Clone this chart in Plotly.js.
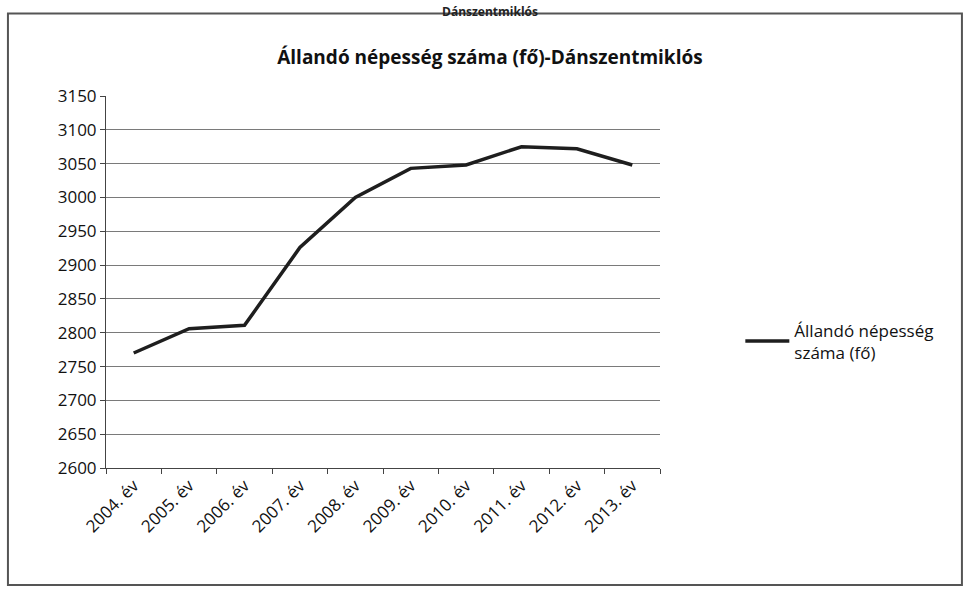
<!DOCTYPE html>
<html>
<head>
<meta charset="utf-8">
<script src="https://cdn.plot.ly/plotly-3.0.1.min.js"></script>
<style>html,body{margin:0;padding:0;background:#fff;}#chart{width:965px;height:590px;}</style>
</head>
<body>
<div id="chart"></div>
<script>
const years = ["2004. év","2005. év","2006. év","2007. év","2008. év","2009. év","2010. év","2011. év","2012. év","2013. év"];
const population = [2770, 2806, 2811, 2926, 3000, 3043, 3048, 3075, 3072, 3048];
const seriesName = "Állandó népesség<br>száma (fő)";
const chartTitle = "Állandó népesség száma (fő)-Dánszentmiklós";
const topTitle = "Dánszentmiklós";

const trace = {
  x: years, y: population, type: "scatter", mode: "lines",
  name: seriesName,
  line: {color: "#1e1e1e", width: 3.5}
};
const layout = {
  width: 965, height: 590,
  margin: {l: 106, r: 305, t: 96, b: 122},
  paper_bgcolor: "#fff", plot_bgcolor: "#fff",
  font: {family: "'Open Sans', Lato, sans-serif", color: "#111", size: 17},
  title: {text: "<b>" + chartTitle + "</b>", x: 0.693, xref: "paper", xanchor: "center", y: 0.903, yanchor: "middle",
          font: {size: 19, family: "'Open Sans', sans-serif", color: "#111"}},
  xaxis: {type: "category", range: [-0.5, 9.5], showgrid: false, showline: true, linecolor: "#444", linewidth: 1,
          ticks: "outside", tickson: "boundaries", ticklen: 5, tickcolor: "#444", tickangle: -45,
          tickfont: {size: 17, color: "#111"}, fixedrange: true},
  yaxis: {range: [2600, 3150], dtick: 50, showgrid: true, gridcolor: "#7a7a7a", gridwidth: 1,
          showline: true, linecolor: "#444", linewidth: 1, ticks: "outside", ticklen: 5, tickcolor: "#444",
          tickfont: {size: 17, color: "#111"}, zeroline: false, fixedrange: true},
  showlegend: true,
  legend: {x: 1.145, y: 0.34, xanchor: "left", yanchor: "middle", font: {size: 17, color: "#111"},
           bgcolor: "rgba(0,0,0,0)", itemwidth: 44},
  shapes: [
    {type: "rect", xref: "paper", yref: "paper", x0: -0.177, x1: 1.545, y0: -0.3145, y1: 1.222,
     line: {color: "#555", width: 2}, fillcolor: "rgba(0,0,0,0)", layer: "below"}
  ],
  annotations: [
    {text: "<b>" + topTitle + "</b>", xref: "paper", yref: "paper", x: 0.693, y: 1.256, xanchor: "center", yanchor: "top",
     showarrow: false, font: {size: 12, color: "#222"}}
  ]
};
Plotly.newPlot("chart", [trace], layout, {staticPlot: true, displayModeBar: false});
</script>
</body>
</html>
